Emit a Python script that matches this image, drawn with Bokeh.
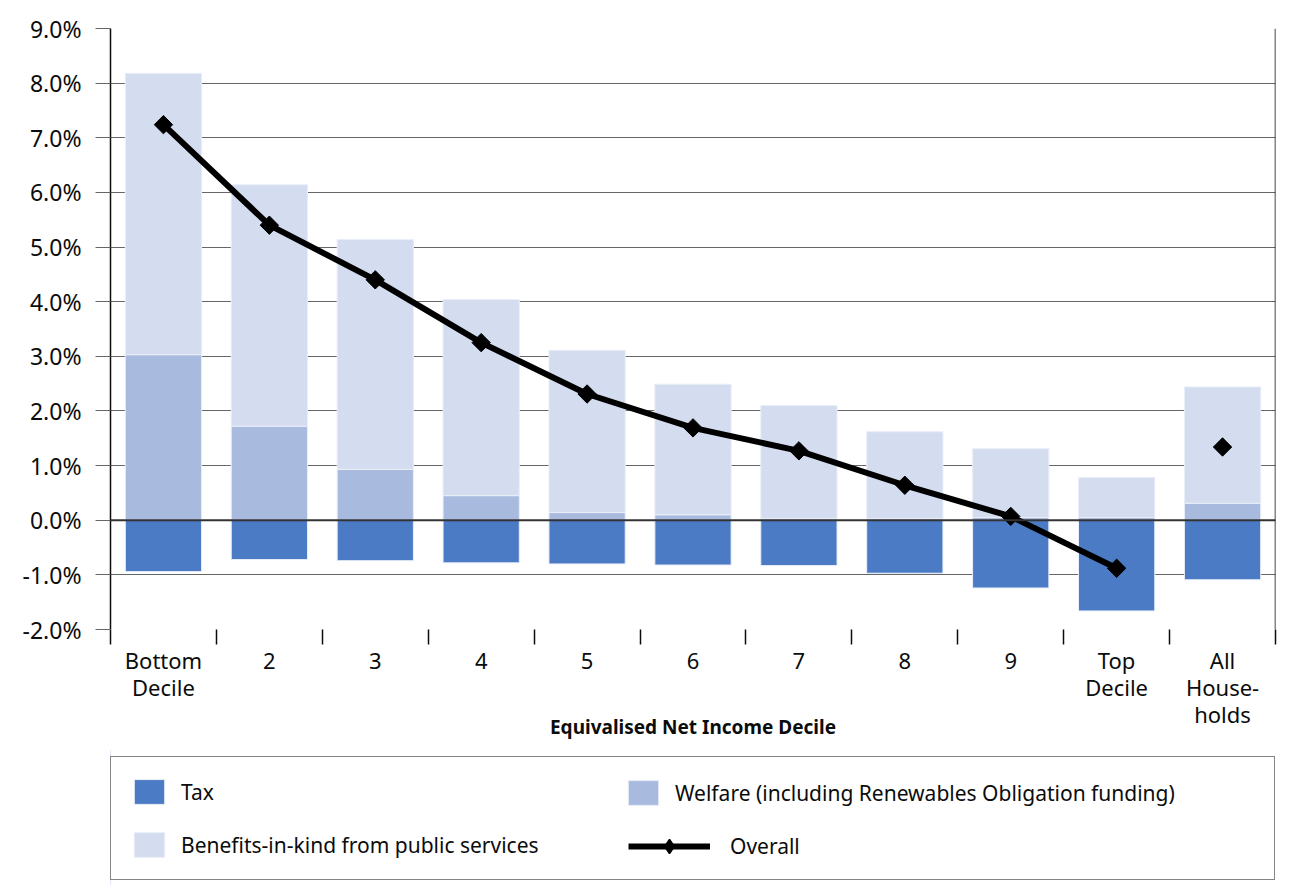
import numpy as np
from bokeh.plotting import figure
from bokeh.layouts import column
from bokeh.models import (Range1d, FixedTicker, PrintfTickFormatter, Span,
                          Legend, LegendItem, ColumnDataSource)
from bokeh.embed import file_html
from bokeh.resources import INLINE

# ---- data (percent of net income) ----
categories = ["Bottom\nDecile", "2", "3", "4", "5", "6", "7", "8", "9",
              "Top\nDecile", "All\nHouse-\nholds"]
tax = [-0.94, -0.72, -0.74, -0.78, -0.80, -0.82, -0.83, -0.97, -1.24, -1.66, -1.09]
welfare = [3.03, 1.72, 0.93, 0.45, 0.14, 0.10, 0.03, 0.03, 0.05, 0.05, 0.31]
benefits = [5.15, 4.42, 4.21, 3.59, 2.97, 2.39, 2.07, 1.59, 1.26, 0.73, 2.13]
overall = [7.24, 5.40, 4.40, 3.25, 2.31, 1.69, 1.27, 0.64, 0.07, -0.88, 1.34]
y_ticks = [-2, -1, 0, 1, 2, 3, 4, 5, 6, 7, 8, 9]
n_deciles = 10  # the line joins the deciles only

# ---- styles ----
FONT = "Noto Sans"
TXT = "#0b0c0c"
C_TAX = "#4a7bc4"
C_WEL = "#a9badf"
C_BEN = "#d4ddef"
EDGE = "#e9eef8"
GRID = "#666666"
W = 1287

n = len(categories)
xs = np.arange(n) + 0.5
wel = np.array(welfare)
src = ColumnDataSource(dict(x=xs, tax=tax, welfare=welfare,
                            stack=wel + np.array(benefits), overall=overall))

p = figure(width=W, height=750, x_range=Range1d(0, n),
           y_range=Range1d(min(y_ticks), max(y_ticks)),
           output_backend="svg", toolbar_location=None,
           min_border_left=110, min_border_right=12,
           min_border_top=28, min_border_bottom=121)
p.outline_line_color = None
p.background_fill_color = "white"
p.border_fill_color = "white"

bar_w = 0.72
bar_tax = dict(fill_color=C_TAX, line_color=EDGE, line_width=1)
bar_wel = dict(fill_color=C_WEL, line_color=EDGE, line_width=1)
bar_ben = dict(fill_color=C_BEN, line_color=EDGE, line_width=1)
line_sty = dict(line_color="black", line_width=6)

p.vbar(x="x", top="tax", bottom=0, width=bar_w, source=src, **bar_tax)
p.vbar(x="x", top="welfare", bottom=0, width=bar_w, source=src, **bar_wel)
p.vbar(x="x", top="stack", bottom="welfare", width=bar_w, source=src, **bar_ben)

p.add_layout(Span(location=0, dimension="width", line_color="#333333", line_width=2))
p.add_layout(Span(location=n, dimension="height", line_color=TXT, line_width=1.5))

p.line(x=xs[:n_deciles], y=overall[:n_deciles], **line_sty)
p.scatter(x="x", y="overall", source=src, marker="square", size=13, angle=np.pi / 4,
          fill_color="black", line_color="black")

# ---- grid ----
p.xgrid.visible = False
p.ygrid.ticker = FixedTicker(ticks=y_ticks)
p.ygrid.grid_line_color = GRID
p.ygrid.grid_line_width = 1

# ---- y axis ----
yax = p.yaxis[0]
yax.ticker = FixedTicker(ticks=y_ticks)
yax.formatter = PrintfTickFormatter(format="%.1f%%")
yax.major_tick_out = 15
yax.major_tick_in = 0
yax.major_tick_line_color = GRID
yax.minor_tick_line_color = None
yax.axis_line_color = TXT
yax.axis_line_width = 1.5
yax.major_label_standoff = 14
yax.major_label_text_font = FONT
yax.major_label_text_font_size = "23px"
yax.major_label_text_color = TXT

# ---- x axis ----
xax = p.xaxis[0]
xax.ticker = FixedTicker(ticks=list(xs), minor_ticks=list(range(n + 1)))
xax.major_label_overrides = {float(x): c for x, c in zip(xs, categories)}
xax.major_tick_out = 0
xax.major_tick_in = 0
xax.major_tick_line_color = None
xax.minor_tick_out = 15
xax.minor_tick_in = 0
xax.minor_tick_line_color = TXT
xax.minor_tick_line_width = 1.5
xax.axis_line_color = None
xax.major_label_standoff = 0
xax.major_label_text_font = FONT
xax.major_label_text_font_size = "22px"
xax.major_label_text_line_height = 0.9
xax.major_label_text_color = TXT
xax.axis_label = "Equivalised Net Income Decile"
xax.axis_label_text_font = FONT
xax.axis_label_text_font_style = "bold"
xax.axis_label_text_font_size = "19px"
xax.axis_label_text_color = TXT
xax.axis_label_standoff = -18

# ---- legend panel (separate figure under the chart; frame aligns with chart frame) ----
LH = 135
q = figure(width=W, height=LH, x_range=Range1d(0, 1), y_range=Range1d(0, 1),
           output_backend="svg", toolbar_location=None,
           x_axis_type=None, y_axis_type=None,
           min_border=0, min_border_left=0, min_border_right=0,
           min_border_top=0, min_border_bottom=0)
q.outline_line_color = None
q.xgrid.visible = False
q.ygrid.visible = False
q.border_fill_color = "white"

# legend-only renderers: their points lie outside the visible range
off = [-10.0]
l_tax = q.vbar(x=off, top=[1.0], width=0.1, **bar_tax)
l_wel = q.vbar(x=off, top=[1.0], width=0.1, **bar_wel)
l_ben = q.vbar(x=off, top=[1.0], width=0.1, **bar_ben)
l_line = q.line(x=[-10.0, -9.0], y=[0.5, 0.5], **line_sty)
l_pts = q.scatter(x=off, y=[0.5], marker="diamond", size=14,
                  fill_color="black", line_color="black", line_width=1.5)


def style(leg):
    leg.label_text_font = FONT
    leg.label_text_font_size = "21px"
    leg.label_text_color = TXT
    leg.margin = 0
    leg.padding = 19
    leg.glyph_height = 31
    leg.label_height = 31


leg_a = Legend(items=[LegendItem(label="Tax", renderers=[l_tax]),
                      LegendItem(label="Benefits-in-kind from public services", renderers=[l_ben])],
               location=(0, 5), orientation="vertical")
style(leg_a)
leg_a.spacing = 22
leg_a.glyph_width = 38
leg_a.label_standoff = 13
leg_a.label_width = 1074
leg_a.border_line_color = TXT
leg_a.border_line_width = 1.5
leg_a.background_fill_color = "white"
leg_a.background_fill_alpha = 1

leg_b = Legend(items=[LegendItem(label="Welfare (including Renewables Obligation funding)",
                                 renderers=[l_wel])],
               location=(514, 77))
style(leg_b)
leg_b.glyph_width = 38
leg_b.label_standoff = 13
leg_b.border_line_color = None
leg_b.background_fill_alpha = 0

leg_c = Legend(items=[LegendItem(label="Overall", renderers=[l_line, l_pts])],
               location=(518, 21.5))
style(leg_c)
leg_c.glyph_height = 36
leg_c.glyph_width = 82
leg_c.label_standoff = 20
leg_c.border_line_color = None
leg_c.background_fill_alpha = 0

q.add_layout(leg_a)
q.add_layout(leg_b)
q.add_layout(leg_c)

layout = column(p, q, spacing=0)
open("out.html", "w").write(file_html(layout, INLINE))
